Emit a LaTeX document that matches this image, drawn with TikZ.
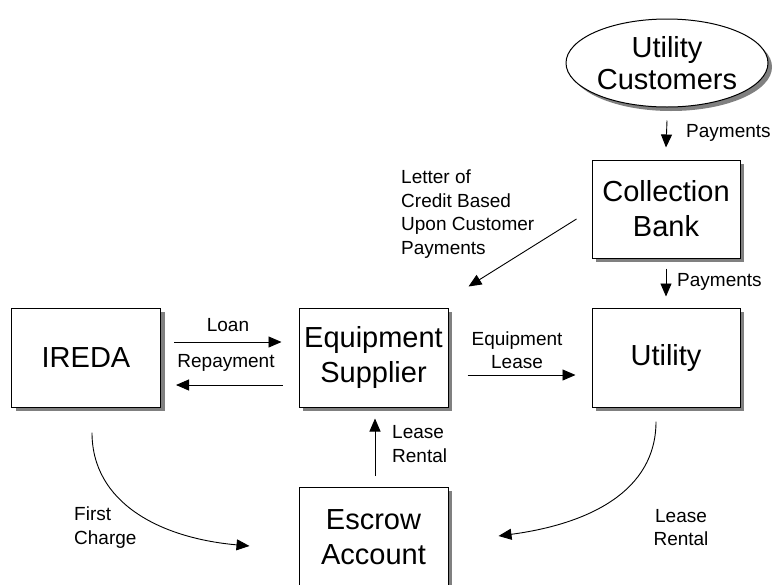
\documentclass[tikz,border=0pt]{standalone}
\usepackage{fontspec}
\setmainfont{Liberation Sans}
\usetikzlibrary{shapes.geometric,shadows,arrows.meta}

\begin{document}
\begin{tikzpicture}[x=1pt,y=-1pt,
  box/.style={draw, line width=1pt, fill=white, minimum width=149pt, minimum height=99pt,
    align=center, font=\fontsize{29}{35}\selectfont,
    drop shadow={shadow xshift=4pt, shadow yshift=-4pt, fill=black!50, opacity=1}},
  lbl/.style={font=\fontsize{19}{23.5}\selectfont, align=left, inner sep=0pt},
  flow/.style={line width=0.9pt, -{Triangle[length=13pt,width=11pt]}}]

\useasboundingbox (0,0) rectangle (773,584);

% Utility Customers
\node[box, ellipse, inner sep=0pt, minimum width=202pt, minimum height=88pt,
  font=\fontsize{29}{32}\selectfont] (cust) at (667,63) {Utility\\Customers};

% Collection Bank
\node[box, minimum width=148pt, minimum height=98pt] (bank) at (666,209) {Collection\\Bank};

% IREDA
\node[box] (ireda) at (86,357.5) {IREDA};

% Equipment Supplier
\node[box] (supp) at (373.5,357.5) {Equipment\\Supplier};

% Utility
\node[box, minimum width=148pt] (util) at (666,357.5) {Utility};

% Escrow Account
\node[box, minimum height=101pt] (escrow) at (373.5,537.5) {Escrow\\Account};

% Payments
\draw[flow] ([yshift=-13pt]cust.south) -- ([yshift=12pt]bank.north);
\node[lbl, anchor=west] (pay1) at (686,133) {Payments};
\draw[flow] ([yshift=-10pt]bank.south) -- ([yshift=11pt]util.north);
\node[lbl, anchor=west] (pay2) at (677,282) {Payments};

% Letter of credit
\draw[flow] ([xshift=-15pt,yshift=-10pt]bank.west) -- ([xshift=20pt,yshift=21pt]supp.north east);
\node[lbl, anchor=west] (credit) at (401,214) {Letter of\\Credit Based\\Upon Customer\\Payments};

% Loan and Repayment
\draw[flow] ([xshift=13pt,yshift=15.5pt]ireda.east) -- ([xshift=-17pt,yshift=15.5pt]supp.west);
\node[lbl] (loan) at (228,325) {Loan};
\draw[flow] ([xshift=-16pt,yshift=-27.5pt]supp.west) -- ([xshift=15pt,yshift=-27.5pt]ireda.east);
\node[lbl] (repay) at (226,363) {Repayment};

% Equipment Lease
\draw[flow] ([xshift=19pt,yshift=-17.5pt]supp.east) -- ([xshift=-16pt,yshift=-17.5pt]util.west);
\node[lbl, align=center] (eqlease) at (517,350) {Equipment\\Lease};

% Lease Rental to supplier
\draw[flow] ([xshift=1.5pt,yshift=10.5pt]escrow.north) -- ([xshift=1.5pt,yshift=-11pt]supp.south);
\node[lbl, anchor=west] (rent1) at (392,444) {Lease\\Rental};

% First Charge
\draw[flow] ([xshift=6pt,yshift=-25pt]ireda.south) .. controls +(0,70) and +(-90,-8) .. ([xshift=-49pt,yshift=-8.5pt]escrow.west);
\node[lbl, anchor=west] (charge) at (74,527.5) {First\\Charge};

% Lease Rental from utility
\draw[flow] ([xshift=-10pt,yshift=-14pt]util.south) .. controls +(0,70) and +(90,-12) .. ([xshift=50pt,yshift=1.5pt]escrow.east);
\node[lbl, align=center] (rent2) at (681,527.5) {Lease\\Rental};

\end{tikzpicture}
\end{document}
